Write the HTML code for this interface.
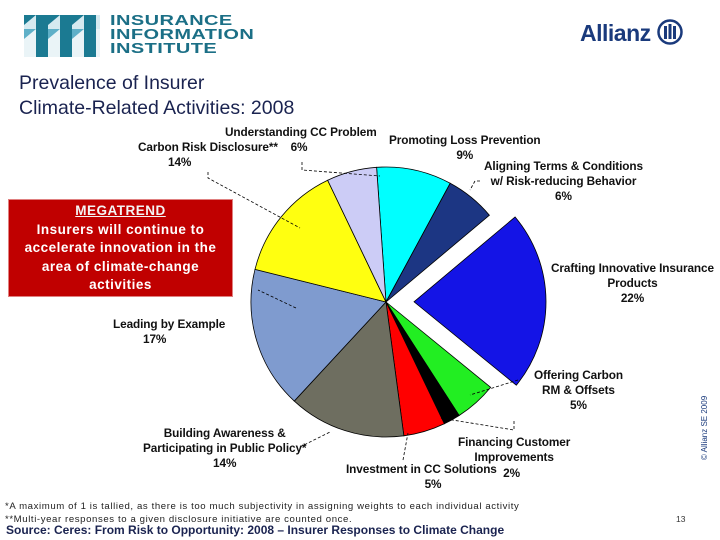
<!DOCTYPE html>
<html><head><meta charset="utf-8"><style>
body{margin:0;width:720px;height:540px;background:#fff;position:relative;overflow:hidden;font-family:"Liberation Sans",Arial,sans-serif}
.abs{position:absolute}
.lbl{position:absolute;font-weight:bold;font-size:11.8px;color:#111;text-align:center;line-height:15px;white-space:nowrap;letter-spacing:-0.1px}
</style></head><body>
<div class="abs" style="left:24px;top:15px;width:250px;height:42px">
 <svg width="80" height="42">
  <g fill="#1b7a92">
   <rect x="0" y="0" width="76" height="14" fill="#d6eaf0"/>
   <rect x="0" y="14" width="76" height="28" fill="#eaf4f7"/>
   <rect x="12" y="0" width="12" height="42"/><rect x="36" y="0" width="12" height="42"/><rect x="60" y="0" width="12" height="42"/>
   <polygon points="0,0 12,0 0,10"/><polygon points="24,0 36,0 24,10"/><polygon points="48,0 60,0 48,10"/>
   <polygon points="0,14 12,14 0,24" fill="#5fb0c8"/><polygon points="24,14 36,14 24,24" fill="#5fb0c8"/><polygon points="48,14 60,14 48,24" fill="#5fb0c8"/>
  </g>
 </svg>
 <div class="abs" style="left:86px;top:-1px;font-weight:bold;font-size:14.5px;line-height:14px;color:#1b6f86;letter-spacing:0.3px;transform:scaleX(1.38);transform-origin:0 0">INSURANCE<br>INFORMATION<br>INSTITUTE</div>
</div>
<div class="abs" style="left:580px;top:19px;font-weight:bold;font-size:23px;color:#1a3a7c;letter-spacing:-0.5px">Allianz
 <svg width="26" height="26" style="vertical-align:-4px"><circle cx="13" cy="13" r="11.5" fill="none" stroke="#1a3a7c" stroke-width="2.5"/><rect x="7" y="7" width="3" height="13" fill="#1a3a7c"/><rect x="11.5" y="5" width="3" height="15" fill="#1a3a7c"/><rect x="16" y="7" width="3" height="13" fill="#1a3a7c"/></svg></div>
<div class="abs" style="left:19px;top:71px;font-size:19.5px;line-height:25px;color:#1a2350">Prevalence of Insurer<br>Climate-Related Activities: 2008</div>

<svg id="pie" class="abs" style="left:0;top:0" width="720" height="540"></svg>

<div class="abs" style="left:8px;top:199px;width:223px;height:96px;background:#c00000;border:1px solid #e08080;color:#fff;text-align:center;font-weight:bold;font-size:13.5px;line-height:18.5px;letter-spacing:0.5px">
 <div style="text-decoration:underline;margin-top:2px;color:#f4f4f4">MEGATREND</div>Insurers will continue to<br>accelerate innovation in the<br>area of climate-change<br>activities</div>

<div class="lbl" style="left:225px;top:125px">Understanding CC Problem</div>
<div class="lbl" style="left:138px;top:140px;text-align:left">Carbon Risk Disclosure** &nbsp; &nbsp;6%<br><span style="margin-left:30px">14%</span></div>
<div class="lbl" style="left:389px;top:133px">Promoting Loss Prevention<br>9%</div>
<div class="lbl" style="left:484px;top:159px">Aligning Terms &amp; Conditions<br>w/ Risk-reducing Behavior<br>6%</div>
<div class="lbl" style="left:551px;top:261px">Crafting Innovative Insurance<br>Products<br>22%</div>
<div class="lbl" style="left:113px;top:317px;text-align:left">Leading by Example<br><span style="margin-left:30px">17%</span></div>
<div class="lbl" style="left:534px;top:368px">Offering Carbon<br>RM &amp; Offsets<br>5%</div>
<div class="lbl" style="left:143px;top:426px">Building Awareness &amp;<br>Participating in Public Policy*<br>14%</div>
<div class="lbl" style="left:458px;top:435px">Financing Customer<br>Improvements</div>
<div class="lbl" style="left:346px;top:462px">Investment in CC Solutions &nbsp;<span style="position:relative;top:4px">2%</span><br>5%</div>

<div class="abs" style="left:700px;top:460px;transform:rotate(-90deg);transform-origin:0 0;font-size:8px;color:#1a3a7c;white-space:nowrap">© Allianz SE 2009</div>
<div class="abs" style="left:5px;top:500px;font-size:9.6px;line-height:13px;color:#222;letter-spacing:0.6px;white-space:nowrap">*A maximum of 1 is tallied, as there is too much subjectivity in assigning weights to each individual activity<br>**Multi-year responses to a given disclosure initiative are counted once.</div>
<div class="abs" style="left:676px;top:514px;font-size:8.5px;color:#333">13</div>
<div class="abs" style="left:6px;top:523px;font-size:12px;font-weight:bold;color:#1a2350">Source: Ceres: From Risk to Opportunity: 2008 – Insurer Responses to Climate Change</div>

<script>
const categories=["Promoting Loss Prevention","Aligning Terms & Conditions","Crafting Innovative Insurance Products","Offering Carbon RM & Offsets","Financing Customer Improvements","Investment in CC Solutions","Building Awareness","Leading by Example","Carbon Risk Disclosure","Understanding CC Problem"];
const values=[9,6,22,5,2,5,14,17,14,6];
const colors=["#00ffff","#1c3683","#1414e6","#22ee22","#000000","#ff0000","#6e6e60","#7f9bcf","#ffff10","#ccccf6"];
const exploded=[false,false,true,false,false,false,false,false,false,false];
const svg=document.getElementById('pie');
const NS='http://www.w3.org/2000/svg';
const cx=386,cy=302,R=135,startDeg=-4,explode=28;
const total=values.reduce((a,b)=>a+b,0);
function pt(a,r,ox,oy){const t=(a-90)*Math.PI/180;return [ox+r*Math.cos(t),oy+r*Math.sin(t)];}
let acc=startDeg;
values.forEach((v,i)=>{
 const sweep=v/total*360,a0=acc,a1=acc+sweep,mid=(a0+a1)/2;acc=a1;
 let ox=cx,oy=cy,r=R;
 if(exploded[i]){const m=pt(mid,explode,cx,cy);ox=m[0];oy=m[1];r=R-3;}
 const p0=pt(a0,r,ox,oy),p1=pt(a1,r,ox,oy);
 const p=document.createElementNS(NS,'path');
 p.setAttribute('d',`M${ox},${oy}L${p0[0]},${p0[1]}A${r},${r} 0 ${sweep>180?1:0} 1 ${p1[0]},${p1[1]}Z`);
 p.setAttribute('fill',colors[i]);p.setAttribute('stroke','#000');p.setAttribute('stroke-width','0.8');
 
 
 svg.appendChild(p);
});
const leaders=[[[208,172],[208,178],[300,228]],[[302,162],[302,170],[380,176]],[[480,181],[475,181],[470,190]],[[296,308],[258,290]],[[518,380],[470,395]],[[300,447],[330,432]],[[514,421],[514,430],[440,418]],[[403,460],[408,433]]];
leaders.forEach((l,i)=>{
 const pl=document.createElementNS(NS,'polyline');
 pl.setAttribute('points',l.map(q=>q.join(',')).join(' '));
 pl.setAttribute('fill','none');pl.setAttribute('stroke','#000');pl.setAttribute('stroke-width','0.8');pl.setAttribute('stroke-dasharray','3,2');
 
 
 svg.appendChild(pl);
});
</script>
</body></html>
